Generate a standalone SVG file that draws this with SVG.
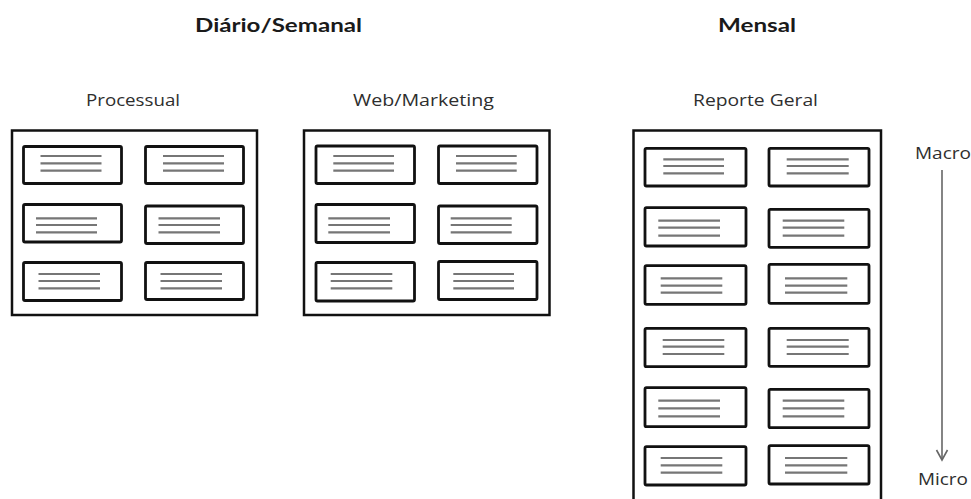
<svg xmlns="http://www.w3.org/2000/svg" width="971" height="499" viewBox="0 0 971 499">
  <style>
    .title { font-family: Lato, "Open Sans", "Liberation Sans", sans-serif; font-weight: bold; font-size: 19.5px; fill: #1a1a1a; }
    .label { font-family: "Open Sans", Lato, "Liberation Sans", sans-serif; font-size: 16px; fill: #2e2e2e; }
    .panel { fill: #ffffff; stroke: #111111; stroke-width: 2.5; }
    .card { fill: #ffffff; stroke: #111111; stroke-width: 2.8; }
    .txt { fill: none; stroke: #767676; stroke-width: 2.2; }
    .arrow { fill: none; stroke: #666666; stroke-width: 1.6; }
  </style>
  <rect width="971" height="499" fill="#ffffff"/>

  <!-- headings -->
  <text class="title" x="195" y="32" textLength="167" lengthAdjust="spacingAndGlyphs">Diário/Semanal</text>
  <text class="title" x="718" y="32" textLength="78" lengthAdjust="spacingAndGlyphs">Mensal</text>

  <!-- Processual board -->
  <g id="processual">
    <text class="label" x="86" y="106" textLength="94" lengthAdjust="spacingAndGlyphs">Processual</text>
    <rect class="panel" x="12" y="130.5" width="245" height="184.5"/>
    <rect class="card" x="23.5" y="146.5" width="98" height="37" rx="1.5"/>
    <path class="txt" d="M40.5 156H101.5M40.5 163.3H101.5M40.5 170.7H101.5"/>
    <rect class="card" x="145.5" y="146.5" width="98" height="37" rx="1.5"/>
    <path class="txt" d="M163 156H224M163 163.3H224M163 170.7H224"/>
    <rect class="card" x="23.5" y="204.5" width="98" height="37.5" rx="1.5"/>
    <path class="txt" d="M36 218.3H97M36 225H97M36 232.3H97"/>
    <rect class="card" x="145.5" y="206" width="98" height="37.5" rx="1.5"/>
    <path class="txt" d="M158.5 218.3H220M158.5 225H220M158.5 232.3H220"/>
    <rect class="card" x="23.5" y="262.5" width="98" height="38" rx="1.5"/>
    <path class="txt" d="M38.5 274H100M38.5 281H100M38.5 288.3H100"/>
    <rect class="card" x="145.5" y="262.5" width="98" height="37" rx="1.5"/>
    <path class="txt" d="M160.5 274H222M160.5 281H222M160.5 288.3H222"/>
  </g>

  <!-- Web/Marketing board -->
  <g id="web-marketing">
    <text class="label" x="353" y="106" textLength="141" lengthAdjust="spacingAndGlyphs">Web/Marketing</text>
    <rect class="panel" x="304" y="130.5" width="245.5" height="184.5"/>
    <rect class="card" x="316" y="146" width="98.5" height="37.5" rx="1.5"/>
    <path class="txt" d="M333.3 156H394M333.3 163.3H394M333.3 170.7H394"/>
    <rect class="card" x="438.5" y="146" width="98.5" height="37.5" rx="1.5"/>
    <path class="txt" d="M456 156H516.7M456 163.3H516.7M456 170.7H516.7"/>
    <rect class="card" x="316" y="204.5" width="98.5" height="38" rx="1.5"/>
    <path class="txt" d="M328.3 218.3H390M328.3 225H390M328.3 232.3H390"/>
    <rect class="card" x="438.5" y="206" width="98.5" height="37.5" rx="1.5"/>
    <path class="txt" d="M450.7 218.3H511.7M450.7 225H511.7M450.7 232.3H511.7"/>
    <rect class="card" x="316" y="262.5" width="98.5" height="38.5" rx="1.5"/>
    <path class="txt" d="M330.7 274H392.3M330.7 281H392.3M330.7 288.3H392.3"/>
    <rect class="card" x="438.5" y="261.5" width="98.5" height="38" rx="1.5"/>
    <path class="txt" d="M453.3 274H514M453.3 281H514M453.3 288.3H514"/>
  </g>

  <!-- Reporte Geral board (runs past the bottom edge) -->
  <g id="reporte-geral">
    <text class="label" x="693" y="106" textLength="125" lengthAdjust="spacingAndGlyphs">Reporte Geral</text>
    <rect class="panel" x="633.5" y="130.5" width="247.5" height="400"/>
    <rect class="card" x="645" y="148.3" width="101" height="37.7" rx="1.5"/>
    <path class="txt" d="M663.3 159.3H724M663.3 166H724M663.3 173.3H724"/>
    <rect class="card" x="769" y="148.3" width="100" height="37.7" rx="1.5"/>
    <path class="txt" d="M786.7 159.3H848.7M786.7 166H848.7M786.7 173.3H848.7"/>
    <rect class="card" x="645" y="207.7" width="101" height="38.3" rx="1.5"/>
    <path class="txt" d="M658.3 220.7H720M658.3 227.7H720M658.3 235.7H720"/>
    <rect class="card" x="769" y="209.3" width="100" height="38" rx="1.5"/>
    <path class="txt" d="M782.7 220.7H844.3M782.7 227.7H844.3M782.7 235.7H844.3"/>
    <rect class="card" x="645" y="265.7" width="101" height="38.6" rx="1.5"/>
    <path class="txt" d="M660.7 278.3H722.3M660.7 285.7H722.3M660.7 292.7H722.3"/>
    <rect class="card" x="769" y="264.3" width="100" height="39" rx="1.5"/>
    <path class="txt" d="M785 278.3H847.3M785 285.7H847.3M785 292.7H847.3"/>
    <rect class="card" x="645" y="328.3" width="101" height="38.4" rx="1.5"/>
    <path class="txt" d="M662.7 340H724.3M662.7 346.7H724.3M662.7 354H724.3"/>
    <rect class="card" x="769" y="328.3" width="100" height="38" rx="1.5"/>
    <path class="txt" d="M786.7 340H848.7M786.7 346.7H848.7M786.7 354H848.7"/>
    <rect class="card" x="645" y="387.7" width="101" height="39" rx="1.5"/>
    <path class="txt" d="M658.3 400.7H720M658.3 408.3H720M658.3 416.3H720"/>
    <rect class="card" x="769" y="389.3" width="100" height="38.4" rx="1.5"/>
    <path class="txt" d="M782.7 400.7H844.3M782.7 408.3H844.3M782.7 416.3H844.3"/>
    <rect class="card" x="645" y="446.7" width="101" height="38.3" rx="1.5"/>
    <path class="txt" d="M660.7 458H722.3M660.7 465.3H722.3M660.7 472.7H722.3"/>
    <rect class="card" x="769" y="445.7" width="100" height="38.3" rx="1.5"/>
    <path class="txt" d="M785 458H847.3M785 465.3H847.3M785 472.7H847.3"/>
  </g>

  <!-- Macro to Micro scale -->
  <g id="scale-labels">
    <text class="label" x="915" y="159" textLength="56" lengthAdjust="spacingAndGlyphs">Macro</text>
    <text class="label" x="918" y="485" textLength="50" lengthAdjust="spacingAndGlyphs">Micro</text>
  </g>
  <g id="connectors">
    <line class="arrow" x1="942" y1="170" x2="942" y2="459"/>
    <polyline class="arrow" points="936.5,450 942,460 947.5,450"/>
  </g>
</svg>
